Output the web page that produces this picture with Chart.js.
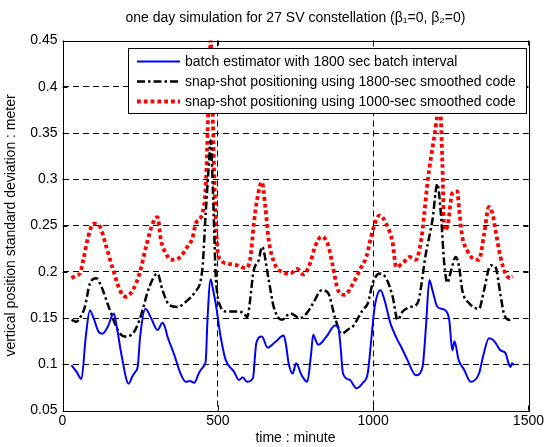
<!DOCTYPE html>
<html>
<head>
<meta charset="utf-8">
<script src="https://cdn.jsdelivr.net/npm/chart.js@4.4.1/dist/chart.umd.min.js"></script>
<style>
  html, body { margin: 0; padding: 0; background: #fff; }
</style>
</head>
<body>
<canvas id="sdChart" width="546" height="447"></canvas>
<script>
// batch estimator, 1800 sec batch interval
const batchTime = [29, 45, 61, 75, 88, 100, 115, 129, 145, 165, 175, 190, 213, 225, 235, 242, 250, 267, 285, 306,
  322, 330, 338, 360, 380, 397, 410, 424, 440, 455, 461, 467, 477, 485, 493, 509, 525, 552, 568, 580,
  594, 613, 624, 642, 660, 685, 712, 720, 728, 741, 752, 770, 788, 800, 807, 815, 823, 850, 877, 887,
  895, 903, 925, 946, 967, 983, 995, 1005, 1024, 1037, 1055, 1069, 1080, 1090, 1110, 1138, 1159, 1170, 1181, 1191,
  1207, 1229, 1245, 1255, 1262, 1275, 1293, 1314, 1341, 1355, 1373, 1390, 1410, 1426, 1437, 1442, 1447, 1453];
const batchSd = [0.099, 0.092, 0.084, 0.130, 0.158, 0.150, 0.136, 0.133, 0.140, 0.155, 0.140, 0.110, 0.079, 0.087, 0.092, 0.097, 0.130, 0.160, 0.150, 0.137,
  0.145, 0.140, 0.130, 0.110, 0.090, 0.081, 0.082, 0.080, 0.091, 0.098, 0.103, 0.150, 0.192, 0.180, 0.166, 0.130, 0.105, 0.092, 0.083, 0.086,
  0.081, 0.085, 0.123, 0.130, 0.118, 0.124, 0.131, 0.120, 0.101, 0.090, 0.101, 0.088, 0.081, 0.110, 0.132, 0.126, 0.121, 0.130, 0.142, 0.141,
  0.120, 0.090, 0.083, 0.074, 0.080, 0.091, 0.130, 0.162, 0.180, 0.169, 0.145, 0.133, 0.125, 0.119, 0.105, 0.088, 0.097, 0.140, 0.191, 0.180,
  0.162, 0.159, 0.148, 0.115, 0.125, 0.105, 0.094, 0.081, 0.090, 0.110, 0.128, 0.125, 0.115, 0.112, 0.100, 0.097, 0.101, 0.099];

// snap-shot, 1800-sec smoothed code
const snap1800Time = [29, 45, 56, 72, 88, 109, 125, 152, 178, 200, 226, 248, 280, 306, 322, 344, 370, 402, 424, 450,
  461, 472, 477, 484, 493, 498, 509, 525, 562, 584, 594, 616, 632, 642, 664, 680, 706, 733, 765, 786,
  807, 834, 855, 877, 898, 925, 935, 967, 983, 999, 1021, 1042, 1063, 1079, 1095, 1122, 1143, 1170, 1191, 1207,
  1218, 1229, 1239, 1250, 1266, 1277, 1287, 1309, 1341, 1357, 1378, 1394, 1410, 1421, 1437, 1450];
const snap1800Sd = [0.148, 0.146, 0.150, 0.162, 0.187, 0.193, 0.184, 0.159, 0.137, 0.130, 0.133, 0.148, 0.184, 0.198, 0.180, 0.164, 0.162, 0.169, 0.177, 0.202,
  0.263, 0.320, 0.342, 0.290, 0.198, 0.177, 0.162, 0.157, 0.157, 0.155, 0.151, 0.202, 0.213, 0.227, 0.191, 0.162, 0.148, 0.155, 0.150, 0.155,
  0.166, 0.180, 0.177, 0.151, 0.133, 0.139, 0.141, 0.159, 0.166, 0.188, 0.198, 0.193, 0.173, 0.148, 0.157, 0.162, 0.166, 0.220, 0.256, 0.295,
  0.263, 0.209, 0.188, 0.200, 0.216, 0.205, 0.180, 0.166, 0.160, 0.180, 0.207, 0.205, 0.175, 0.155, 0.148, 0.150];

// snap-shot, 1000-sec smoothed code
const snap1000Time = [29, 45, 56, 67, 83, 99, 120, 141, 163, 189, 205, 226, 248, 269, 290, 306, 317, 333, 349, 376,
  402, 418, 429, 450, 461, 470, 477, 483, 488, 493, 498, 509, 530, 562, 589, 605, 616, 626, 642, 653,
  664, 685, 706, 733, 755, 776, 797, 813, 834, 855, 871, 887, 909, 930, 957, 978, 999, 1021, 1042, 1063,
  1074, 1095, 1117, 1138, 1155, 1165, 1175, 1197, 1215, 1223, 1229, 1240, 1255, 1271, 1277, 1287, 1303, 1319, 1341, 1357,
  1373, 1385, 1394, 1410, 1426, 1442, 1450];
const snap1000Sd = [0.193, 0.196, 0.198, 0.213, 0.238, 0.252, 0.249, 0.227, 0.202, 0.177, 0.173, 0.180, 0.198, 0.227, 0.252, 0.259, 0.234, 0.220, 0.213, 0.215,
  0.227, 0.236, 0.252, 0.263, 0.292, 0.380, 0.450, 0.380, 0.310, 0.263, 0.227, 0.213, 0.209, 0.207, 0.204, 0.215, 0.252, 0.277, 0.297, 0.270,
  0.234, 0.207, 0.200, 0.198, 0.203, 0.197, 0.209, 0.227, 0.238, 0.229, 0.205, 0.180, 0.175, 0.184, 0.202, 0.216, 0.245, 0.261, 0.252, 0.231,
  0.205, 0.209, 0.216, 0.213, 0.235, 0.263, 0.296, 0.346, 0.380, 0.317, 0.245, 0.250, 0.285, 0.287, 0.267, 0.238, 0.223, 0.215, 0.213, 0.240,
  0.270, 0.262, 0.245, 0.216, 0.198, 0.193, 0.195];

const seriesLabels = [
  "batch estimator with 1800 sec batch interval",
  "snap-shot positioning using 1800-sec smoothed code",
  "snap-shot positioning using 1000-sec smoothed code"
];
const xTicks = [0, 500, 1000, 1500];
const yTicks = [0.05, 0.1, 0.15, 0.2, 0.25, 0.3, 0.35, 0.4, 0.45];

function toPoints(ts, vs) {
  return ts.map((t, i) => ({ x: t, y: vs[i] }));
}

Chart.defaults.font.family = "'Liberation Sans', Arial, sans-serif";
Chart.defaults.font.size = 14;
Chart.defaults.color = "#000";

// white page behind everything
const whiteBg = {
  id: "whiteBg",
  beforeDraw(chart) {
    const ctx = chart.ctx;
    ctx.save();
    ctx.fillStyle = "#fff";
    ctx.fillRect(0, 0, chart.width, chart.height);
    ctx.restore();
  }
};

// matlab style box, inward ticks and legend inside the axes
const boxAndLegend = {
  id: "boxAndLegend",
  afterDatasetsDraw(chart) {
    const ctx = chart.ctx;
    const a = chart.chartArea;
    const xs = chart.scales.x, ys = chart.scales.y;
    ctx.save();
    ctx.strokeStyle = "#000";
    ctx.lineWidth = 1;
    ctx.setLineDash([]);
    ctx.beginPath();
    xTicks.forEach(v => {
      const px = Math.round(xs.getPixelForValue(v)) + 0.5;
      ctx.moveTo(px, a.bottom); ctx.lineTo(px, a.bottom - 5);
      ctx.moveTo(px, a.top); ctx.lineTo(px, a.top + 5);
    });
    yTicks.forEach(v => {
      const py = Math.round(ys.getPixelForValue(v)) + 0.5;
      ctx.moveTo(a.left, py); ctx.lineTo(a.left + 5, py);
      ctx.moveTo(a.right, py); ctx.lineTo(a.right - 5, py);
    });
    ctx.stroke();
    ctx.strokeRect(Math.round(a.left) + 0.5, Math.round(a.top) + 0.5,
      Math.round(a.right - a.left), Math.round(a.bottom - a.top));

    // legend
    const lx = 128.5, ly = 48.5, lw = 398, lh = 65;
    ctx.fillStyle = "#fff";
    ctx.fillRect(lx, ly, lw, lh);
    ctx.strokeRect(lx, ly, lw, lh);
    ctx.font = "14px 'Liberation Sans', Arial, sans-serif";
    ctx.textBaseline = "middle";
    chart.data.datasets.forEach((ds, i) => {
      const y = 61.5 + i * 20;
      ctx.save();
      ctx.strokeStyle = ds.borderColor;
      ctx.lineWidth = ds.borderWidth;
      ctx.setLineDash(ds.borderDash || []);
      ctx.beginPath();
      ctx.moveTo(137, y);
      ctx.lineTo(180, y);
      ctx.stroke();
      ctx.restore();
      ctx.fillStyle = "#000";
      ctx.fillText(ds.label, 185, y + 1);
    });
    ctx.restore();
  }
};

function innerGrid(values) {
  return c => (c.tick && values.some(v => Math.abs(v - c.tick.value) < 1e-9)) ? "#000" : "rgba(0,0,0,0)";
}

new Chart(document.getElementById("sdChart"), {
  type: "line",
  data: {
    datasets: [
      {
        label: seriesLabels[0],
        data: toPoints(batchTime, batchSd),
        borderColor: "#0000ff",
        borderWidth: 2,
        borderDash: []
      },
      {
        label: seriesLabels[1],
        data: toPoints(snap1800Time, snap1800Sd),
        borderColor: "#000000",
        borderWidth: 2.5,
        borderDash: [8, 3, 2.5, 3]
      },
      {
        label: seriesLabels[2],
        data: toPoints(snap1000Time, snap1000Sd),
        borderColor: "#ff0000",
        borderWidth: 3.8,
        borderDash: [3.8, 3]
      }
    ]
  },
  options: {
    responsive: false,
    animation: false,
    parsing: false,
    layout: { padding: { top: 0, right: 15, bottom: 0, left: 0 } },
    elements: {
      point: { radius: 0 },
      line: { fill: false, cubicInterpolationMode: "monotone" }
    },
    plugins: {
      legend: { display: false },
      tooltip: { enabled: false },
      title: {
        display: true,
        fullSize: false,
        text: "one day simulation for 27 SV constellation (\u03b2\u2081=0, \u03b2\u2082=0)",
        font: { size: 14, weight: "normal" },
        color: "#000",
        padding: { top: 10, bottom: 13.7 }
      }
    },
    scales: {
      x: {
        type: "linear",
        min: 0,
        max: 1500,
        afterBuildTicks: s => { s.ticks = xTicks.map(v => ({ value: v })); },
        afterFit: s => { s.height = 36.5; },
        grid: { color: innerGrid([500, 1000]), lineWidth: 1, drawTicks: false },
        border: { display: false, dash: [6, 4] },
        ticks: { padding: 2, maxRotation: 0, color: "#000", callback: v => String(v) },
        title: { display: true, text: "time : minute", color: "#000", padding: { top: 0, bottom: 0 } }
      },
      y: {
        type: "linear",
        min: 0.05,
        max: 0.45,
        afterBuildTicks: s => { s.ticks = yTicks.map(v => ({ value: v })); },
        afterFit: s => { s.width = 62.5; },
        grid: { color: innerGrid([0.1, 0.15, 0.2, 0.25, 0.3, 0.35, 0.4]), lineWidth: 1, drawTicks: false },
        border: { display: false, dash: [6, 4] },
        ticks: { padding: 5, color: "#000", callback: v => String(+v.toFixed(2)) },
        title: { display: true, text: "vertical position standard deviation : meter", color: "#000", padding: { top: 3, bottom: 0 } }
      }
    }
  },
  plugins: [whiteBg, boxAndLegend]
});
</script>
</body>
</html>
